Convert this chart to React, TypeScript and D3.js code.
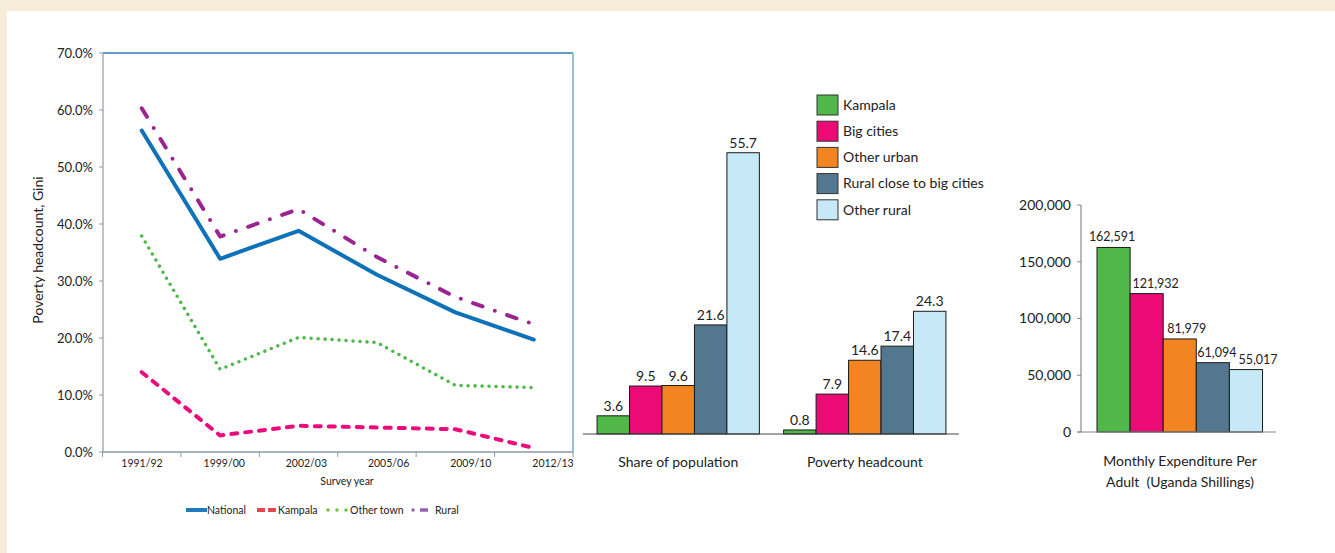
import React from "react";
import * as d3 from "d3";

// ---------- Data ----------
const years = ["1991/92", "1999/00", "2002/03", "2005/06", "2009/10", "2012/13"];
const national = [0.564, 0.339, 0.388, 0.311, 0.245, 0.197];
const kampala = [0.14, 0.029, 0.046, 0.043, 0.04, 0.007];
const otherTown = [0.379, 0.145, 0.201, 0.192, 0.117, 0.113];
const rural = [0.603, 0.378, 0.426, 0.342, 0.272, 0.224];
const leftTicks = [0, 0.1, 0.2, 0.3, 0.4, 0.5, 0.6, 0.7];

const areas = ["Kampala", "Big cities", "Other urban", "Rural close to big cities", "Other rural"];
const areaColors = ["#50b848", "#ec0b76", "#f28522", "#52778f", "#c7e8f7"];
const groups = ["Share of population", "Poverty headcount"];
const sharePop = [3.6, 9.5, 9.6, 21.6, 55.7];
const povHead = [0.8, 7.9, 14.6, 17.4, 24.3];
const groupValues = [sharePop, povHead];

const expenditure = [162591, 121932, 81979, 61094, 55017];
const expTicks = [0, 50000, 100000, 150000, 200000];

// layout: horizontal nudges of the expenditure value labels (as in the reference)
const EXP_LABEL_NUDGE = [-1.5, 9, 7, 4, 12];

const FONT = "Lato, 'Open Sans', sans-serif";

export default function App() {
  // ----- Left line chart -----
  const xBand = d3.scaleBand<string>().domain(years).range([102.5, 573]);
  const xLabel = d3.scalePoint<string>().domain(years).range([142, 553]);
  const yL = d3.scaleLinear().domain([0, 0.7]).range([452, 53]);
  const pct = d3.format(".1%");
  const lineGen = d3
    .line<number>()
    .x((_, i) => (xBand(years[i]) as number) + xBand.bandwidth() / 2)
    .y((d) => yL(d))
    .curve(d3.curveLinear);

  const series = [
    { name: "National", values: national, color: "#0e72b8", dash: undefined as string | undefined, cap: "round", w: 4 },
    { name: "Kampala", values: kampala, color: "#ec0b7c", dash: "6,8", cap: "round", w: 4 },
    { name: "Other town", values: otherTown, color: "#4db848", dash: "0,7", cap: "round", w: 3.6 },
    { name: "Rural", values: rural, color: "#9b2590", dash: "10,13,0,13", cap: "round", w: 4 },
  ];

  // ----- Middle bar chart -----
  const x0 = d3.scaleBand<string>().domain(groups).range([584, 959]).paddingInner(0.13).paddingOuter(0.07);
  const x1 = d3.scaleBand<string>().domain(areas).range([0, x0.bandwidth()]);
  const yM = d3.scaleLinear().domain([0, 60]).range([434, 131]);

  // ----- Right bar chart -----
  const xR = d3.scaleBand<string>().domain(areas).range([1097, 1262.5]);
  const yR = d3.scaleLinear().domain([0, 200000]).range([432, 205]);
  const comma = d3.format(",");

  return (
    <svg
      width={1335}
      height={553}
      style={{ position: "absolute", left: 0, top: 0, fontFamily: FONT }}
    >
      <rect x={0} y={0} width={1335} height={553} fill="#f7ecda" />
      <rect x={7} y={11} width={1328} height={542} fill="#ffffff" />

      {/* ===== Left chart ===== */}
      <line x1={103} x2={573} y1={53} y2={53} stroke="#2f79b8" strokeWidth={1.5} />
      <line x1={573} x2={573} y1={53} y2={452} stroke="#8cc2e3" strokeWidth={2} />
      <line x1={103} x2={103} y1={53} y2={452} stroke="#8d9aab" strokeWidth={1.2} />
      {leftTicks.map((t) => (
        <g key={t}>
          <line x1={99} x2={103} y1={yL(t)} y2={yL(t)} stroke="#8d9aab" />
          <text x={93} y={yL(t)} dy="0.35em" textAnchor="end" fontSize={13} fill="#222">
            {pct(t)}
          </text>
        </g>
      ))}
      <line x1={102.5} x2={573} y1={452} y2={452} stroke="#8d9aab" strokeWidth={1.5} />
      {years.map((y) => (
        <line key={"t" + y} x1={xBand(y)} x2={xBand(y)} y1={452} y2={457} stroke="#8d9aab" />
      ))}
      <line x1={573} x2={573} y1={452} y2={457} stroke="#8d9aab" />
      {years.map((y) => (
        <text key={"l" + y} x={xLabel(y)} y={467} textAnchor="middle" fontSize={10.5} fill="#222">
          {y}
        </text>
      ))}
      <text x={347} y={485} textAnchor="middle" fontSize={10.5} fill="#222">
        Survey year
      </text>
      <text
        transform="translate(43,250) rotate(-90)"
        textAnchor="middle"
        fontSize={14}
        fill="#222"
      >
        Poverty headcount, Gini
      </text>

      {series.map((s) => (
        <path
          key={s.name}
          d={lineGen(s.values) as string}
          fill="none"
          stroke={s.color}
          strokeWidth={s.w}
          strokeDasharray={s.dash}
          strokeLinecap={s.cap as any}
          strokeLinejoin="round"
        />
      ))}

      {/* legend */}
      <g fontSize={10.5} fill="#222">
        <line x1={186} x2={207} y1={510} y2={510} stroke="#1f7bc1" strokeWidth={4} />
        <text x={207} y={510} dy="0.35em">National</text>
        <line x1={257} x2={278} y1={510} y2={510} stroke="#e3474f" strokeWidth={4} strokeDasharray="8,3" />
        <text x={278} y={510} dy="0.35em">Kampala</text>
        <line x1={328} x2={349} y1={510} y2={510} stroke="#76bd45" strokeWidth={3.5} strokeDasharray="0,9" strokeLinecap="round" />
        <text x={350} y={510} dy="0.35em">Other town</text>
        <line x1={413} x2={413} y1={510} y2={510} stroke="#9160b0" strokeWidth={3.5} strokeLinecap="round" />
        <line x1={420} x2={428} y1={510} y2={510} stroke="#9160b0" strokeWidth={3.5} />
        <text x={435} y={510} dy="0.35em">Rural</text>
      </g>

      {/* ===== Middle chart ===== */}
      {groups.map((g, gi) => (
        <g key={g} transform={`translate(${x0(g)},0)`}>
          {areas.map((a, i) => {
            const v = groupValues[gi][i];
            return (
              <g key={a}>
                <rect
                  x={x1(a)}
                  y={yM(v)}
                  width={x1.bandwidth()}
                  height={yM(0) - yM(v)}
                  fill={areaColors[i]}
                  stroke="#1a1a1a"
                  strokeWidth={1}
                />
                <text
                  x={(x1(a) as number) + x1.bandwidth() / 2}
                  y={yM(v) - 5}
                  textAnchor="middle"
                  fontSize={14}
                  fill="#222"
                >
                  {v.toFixed(1)}
                </text>
              </g>
            );
          })}
          <text x={x0.bandwidth() / 2} y={467} textAnchor="middle" fontSize={14} fill="#222">
            {g}
          </text>
        </g>
      ))}
      <line x1={583} x2={959} y1={434} y2={434} stroke="#444" strokeWidth={1} />

      {areas.map((a, i) => (
        <g key={"lg" + a} transform={`translate(817,${95 + i * 26.2})`}>
          <rect x={0} y={0} width={21} height={20} fill={areaColors[i]} stroke="#333" strokeWidth={1} />
          <text x={26} y={10} dy="0.35em" fontSize={14} fill="#222">
            {a}
          </text>
        </g>
      ))}

      {/* ===== Right chart ===== */}
      {areas.map((a, i) => (
        <g key={"r" + a}>
          <rect
            x={xR(a)}
            y={yR(expenditure[i])}
            width={xR.bandwidth()}
            height={yR(0) - yR(expenditure[i])}
            fill={areaColors[i]}
            stroke="#1a1a1a"
            strokeWidth={1}
          />
          <text
            x={(xR(a) as number) + xR.bandwidth() / 2 + EXP_LABEL_NUDGE[i]}
            y={yR(expenditure[i]) - 6}
            textAnchor="middle"
            fontSize={12.5}
            fill="#222"
          >
            {comma(expenditure[i])}
          </text>
        </g>
      ))}
      <line x1={1081} x2={1081} y1={205} y2={432} stroke="#888" strokeWidth={1.2} />
      <line x1={1077} x2={1276} y1={432} y2={432} stroke="#888" strokeWidth={1.2} />
      {expTicks.map((t) => (
        <g key={"et" + t}>
          <line x1={1077} x2={1081} y1={yR(t)} y2={yR(t)} stroke="#888" />
          <text x={1071} y={yR(t)} dy="0.35em" textAnchor="end" fontSize={14} fill="#222">
            {comma(t)}
          </text>
        </g>
      ))}
      <text x={1180} y={466} textAnchor="middle" fontSize={14} fill="#222">
        Monthly Expenditure Per
      </text>
      <text x={1180} y={487} textAnchor="middle" fontSize={14} fill="#222" style={{ whiteSpace: "pre" }}>
        {"Adult  (Uganda Shillings)"}
      </text>
    </svg>
  );
}
